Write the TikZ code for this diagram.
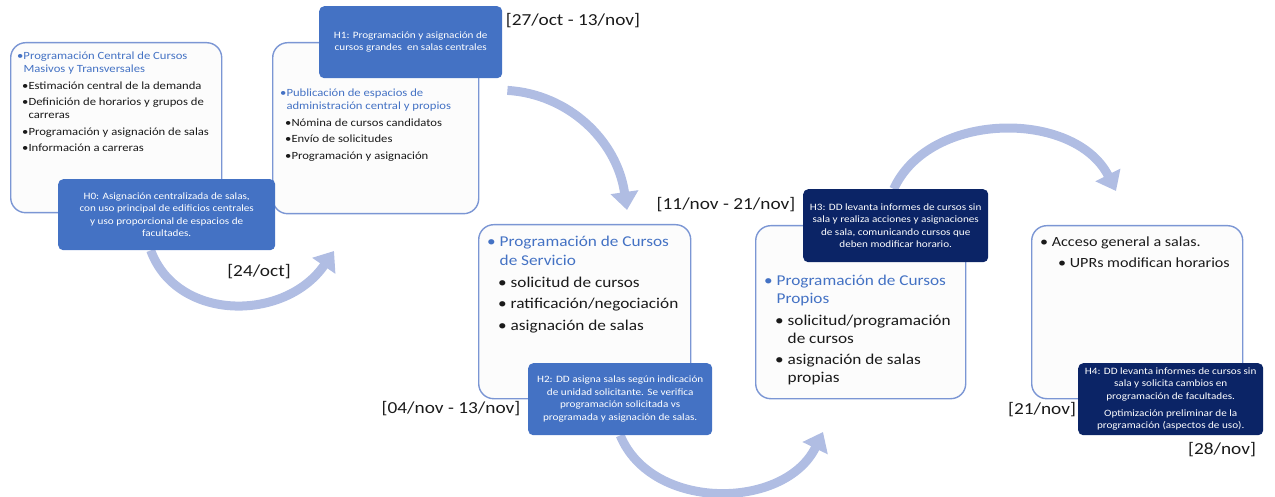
\documentclass[tikz,border=0pt]{standalone}
\usepackage{fontspec}
\setmainfont{Carlito}[FakeStretch=1.15]
\usetikzlibrary{arrows.meta}
\pgfdeclarelayer{bg}
\pgfsetlayers{bg,main}
\definecolor{boxborder}{HTML}{7B96D4}
\definecolor{boxfill}{HTML}{FCFCFC}
\definecolor{hblue}{HTML}{4472C4}
\definecolor{hnavy}{HTML}{0B2466}
\definecolor{arrowblue}{HTML}{B0BDE3}
\definecolor{headblue}{HTML}{4472C4}
\definecolor{bodytext}{HTML}{1A1A1A}
\tikzset{
  bigbox/.style={draw=boxborder, fill=boxfill, line width=1.4pt, rounded corners=15pt, anchor=north west, inner sep=0pt},
  hbox/.style={fill=#1, rounded corners=5pt, anchor=north west, inner sep=0pt, text=white, align=center, font=\fontsize{9.7}{12.5}\selectfont},
  listtext/.style={anchor=north west, inner sep=0pt, align=left, text=bodytext},
  smalllist/.style={listtext, font=\fontsize{11}{13}\selectfont},
  datelabel/.style={inner sep=0pt, text=bodytext, font=\fontsize{16.8}{19}\selectfont},
  bigarrow/.style={draw=arrowblue, line width=9pt, -{Triangle[width=27pt,length=18pt]}}
}
\begin{document}
\begin{tikzpicture}[x=1pt,y=-1pt]
\useasboundingbox (0,0) rectangle (1275,497);
% end coordinates of the curved arrows
\coordinate (a1e) at (334,251);
\coordinate (a2e) at (627,210);
\coordinate (a3e) at (823,432);
\coordinate (a4e) at (1116,191);
% big boxes
\node[bigbox, minimum width=211pt, minimum height=170pt] (boxA) at (10,42) {};
\node[bigbox, minimum width=206pt, minimum height=171pt] (boxB) at (272,42) {};
\node[bigbox, minimum width=212pt, minimum height=174pt] (boxC) at (478,224) {};
\node[bigbox, minimum width=210pt, minimum height=173pt] (boxD) at (755,225) {};
\node[bigbox, minimum width=211pt, minimum height=173pt] (boxE) at (1031,225) {};
% box texts
\node[smalllist] (tA) at (17,52) {%
  \textcolor{headblue}{•Programación Central de Cursos}\\
  \textcolor{headblue}{\phantom{•}Masivos y Transversales}\\[3.5pt]
  \hspace{5pt}•Estimación central de la demanda\\[3.5pt]
  \hspace{5pt}•Definición de horarios y grupos de\\
  \hspace{5pt}\phantom{•}carreras\\[3.5pt]
  \hspace{5pt}•Programación y asignación de salas\\[3.5pt]
  \hspace{5pt}•Información a carreras};
\node[smalllist] (tB) at (280,89) {%
  \textcolor{headblue}{•Publicación de espacios de}\\
  \textcolor{headblue}{\phantom{•}administración central y propios}\\[3.5pt]
  \hspace{5pt}•Nómina de cursos candidatos\\[3.5pt]
  \hspace{5pt}•Envío de solicitudes\\[3.5pt]
  \hspace{5pt}•Programación y asignación};
\node[listtext, font=\fontsize{15}{19}\selectfont] (tC) at (487,236) {%
  \textcolor{headblue}{• Programación de Cursos}\\
  \textcolor{headblue}{\phantom{• }de Servicio}\\[2.5pt]
  \hspace{11pt}• solicitud de cursos\\[2.5pt]
  \hspace{11pt}• ratificación/negociación\\[2.5pt]
  \hspace{11pt}• asignación de salas};
\node[listtext, font=\fontsize{15}{18}\selectfont] (tD) at (764,275) {%
  \textcolor{headblue}{• Programación de Cursos}\\
  \textcolor{headblue}{\phantom{• }Propios}\\[4pt]
  \hspace{11pt}• solicitud/programación\\
  \hspace{11pt}\phantom{• }de cursos\\[3pt]
  \hspace{11pt}• asignación de salas\\
  \hspace{11pt}\phantom{• }propias};
\node[listtext, font=\fontsize{14}{19}\selectfont] (tE) at (1040,237) {%
  • Acceso general a salas.\\[2pt]
  \hspace{18pt}• UPRs modifican horarios};
% H boxes
\node[hbox=hblue, minimum width=217pt, minimum height=71pt] (h0) at (58,179) {H0: Asignación centralizada de salas,\\con uso principal de edificios centrales\\y uso proporcional de espacios de\\facultades.};
\node[hbox=hblue, minimum width=183pt, minimum height=72pt] (h1) at (319,6) {H1: Programación y asignación de\\cursos grandes\ \ en salas centrales};
\node[hbox=hblue, minimum width=184pt, minimum height=72pt] (h2) at (528,363) {H2: DD asigna salas según indicación\\de unidad solicitante. Se verifica\\programación solicitada vs\\programada y asignación de salas.};
\node[hbox=hnavy, minimum width=185pt, minimum height=73pt] (h3) at (803,189) {H3: DD levanta informes de cursos sin\\sala y realiza acciones y asignaciones\\de sala, comunicando cursos que\\deben modificar horario.};
\node[hbox=hnavy, minimum width=185pt, minimum height=72pt] (h4) at (1078,363) {H4: DD levanta informes de cursos sin\\sala y solicita cambios en\\programación de facultades.\\[4.5pt]Optimización preliminar de la\\programación (aspectos de uso).};
% arrows (behind boxes)
\begin{pgfonlayer}{bg}
\draw[bigarrow] ([xshift=-16pt]h0.south) .. controls (177,322) and (285,322) .. (a1e);
\draw[bigarrow] ([xshift=5pt,yshift=-12pt]h1.south east) .. controls (568,94) and (617,140) .. (a2e);
\draw[bigarrow] (h2.south) .. controls (652,512) and (785,510) .. (a3e);
\draw[bigarrow] ([xshift=-2pt]h3.north) .. controls (930,110) and (1075,110) .. (a4e);
\end{pgfonlayer}
% date labels
\node[datelabel] (d1) at (573,21) {[27/oct - 13/nov]};
\node[datelabel] (d2) at (726,205) {[11/nov - 21/nov]};
\node[datelabel] (d3) at (451,409) {[04/nov - 13/nov]};
\node[datelabel] (d4) at (259,272) {[24/oct]};
\node[datelabel] (d5) at (1042,410) {[21/nov]};
\node[datelabel] (d6) at (1222,450) {[28/nov]};
\end{tikzpicture}
\end{document}
